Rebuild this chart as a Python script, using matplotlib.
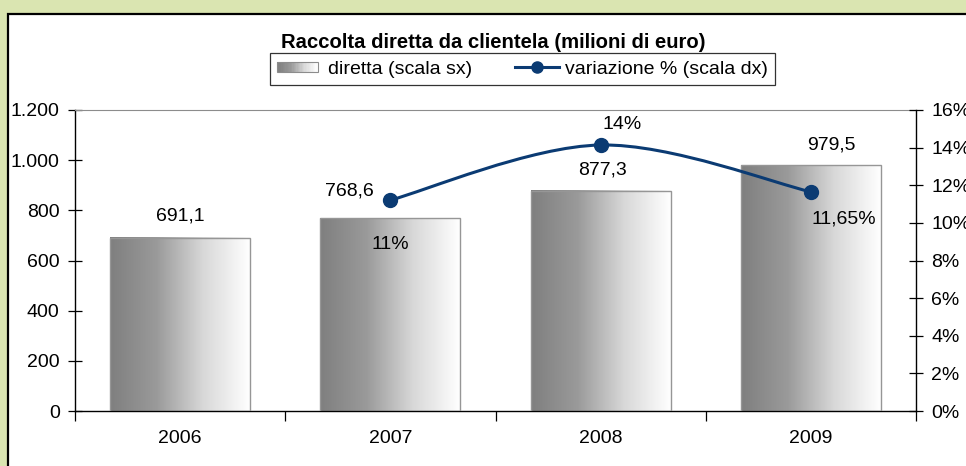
import numpy as np
import matplotlib
matplotlib.use('Agg')
import matplotlib.pyplot as plt
from matplotlib.path import Path
from matplotlib.patches import PathPatch, Rectangle
from matplotlib.lines import Line2D
from matplotlib.legend_handler import HandlerBase
from matplotlib.colors import LinearSegmentedColormap
from matplotlib.ticker import FuncFormatter, FixedLocator

### data

years = ['2006', '2007', '2008', '2009']
diretta = [691.1, 768.6, 877.3, 979.5]
diretta_labels = ['691,1', '768,6', '877,3', '979,5']
var_years = [1, 2, 3]  # index into years
variazione = [11.21, 14.14, 11.65]
var_labels = ['11%', '14%', '11,65%']

### style

plt.rcParams['font.family'] = ['Liberation Sans', 'DejaVu Sans']
FS = 14
NAVY = '#0b3b73'
GREEN_BG = '#dae5b1'
grad_cmap = LinearSegmentedColormap.from_list('grad', ['#7f7f7f', '#9a9a9a', '#d8d8d8', '#ffffff'])

# label offsets in pixels (dx, dy)
bar_off = [(0, 22), (-41, 27), (2, 21), (21, 20)]
var_off = [(0, -44), (21, 20), (33, -27)]


class GradientHandler(HandlerBase):
	def create_artists(self, legend, orig_handle, xdescent, ydescent, width, height, fontsize, trans):
		n = 30
		arts = []
		w = width * 0.92
		h = height * 0.8
		y0 = -ydescent + (height - h) / 2
		for i in range(n):
			r = Rectangle((-xdescent + w * i / n, y0), w / n, h,
				facecolor=grad_cmap(i / (n - 1)), edgecolor='none', transform=trans)
			arts.append(r)
		arts.append(Rectangle((-xdescent, y0), w, h, facecolor='none',
			edgecolor='#8c8c8c', lw=0.8, transform=trans))
		return arts


### figure

fig = plt.figure(figsize=(9.66, 4.66), dpi=100)
fig.patch.set_facecolor(GREEN_BG)
panel = Rectangle((7.5 / 966, -0.1), 1.2, 1 - 13.5 / 466 + 0.1, transform=fig.transFigure,
	facecolor='white', edgecolor='black', lw=1.6, zorder=-10)
fig.patches.append(panel)

ax = fig.add_axes([75 / 966, 1 - 411 / 466, 841 / 966, 301 / 466])
ax.set_facecolor('none')
x = np.arange(len(years))
bars = ax.bar(x, diretta, width=0.665, facecolor='none', edgecolor='#969696', lw=1.0, zorder=3)
for b in bars:
	x0, w, h = b.get_x(), b.get_width(), b.get_height()
	ax.imshow(np.linspace(0, 1, 256).reshape(1, -1), cmap=grad_cmap, aspect='auto',
		extent=(x0, x0 + w, 0, h), zorder=2, interpolation='bilinear')
for b, lab, off in zip(bars, diretta_labels, bar_off):
	ax.annotate(lab, (b.get_x() + b.get_width() / 2, b.get_height()), xytext=off,
		textcoords='offset pixels', ha='center', va='center', fontsize=FS, zorder=6)

ax.set_xlim(-0.5, len(years) - 0.5)
ax.set_ylim(0, 1200)
ax.yaxis.set_major_locator(FixedLocator(np.arange(0, 1201, 200)))
ax.yaxis.set_major_formatter(FuncFormatter(lambda v, p: f"{int(v):,}".replace(',', '.')))
ax.xaxis.set_major_locator(FixedLocator(np.arange(-0.5, len(years), 1.0)))
ax.xaxis.set_major_formatter(FuncFormatter(lambda v, p: ''))
ax.xaxis.set_minor_locator(FixedLocator(x))
ax.set_xticklabels(years, minor=True)
ax.tick_params(axis='x', which='major', direction='out', length=7, width=0.9)
ax.tick_params(axis='x', which='minor', length=0, pad=14, labelsize=FS)
ax.tick_params(axis='y', direction='inout', length=10, width=0.9, labelsize=FS, pad=6)
for s in ['left', 'bottom']:
	ax.spines[s].set_linewidth(1.0)
ax.spines['top'].set_color('#8c8c8c')
ax.spines['right'].set_visible(False)

ax2 = ax.twinx()
ax2.set_ylim(0, 16)
ax2.yaxis.set_major_locator(FixedLocator(np.arange(0, 17, 2)))
ax2.yaxis.set_major_formatter(FuncFormatter(lambda v, p: f"{int(v)}%"))
ax2.tick_params(axis='y', direction='inout', length=10, width=0.9, labelsize=FS, pad=6)
ax2.spines['right'].set_linewidth(1.0)
for s in ['left', 'top', 'bottom']:
	ax2.spines[s].set_visible(False)

# smooth line (Catmull-Rom as Bezier)
pts = np.column_stack([var_years, variazione]).astype(float)
ext = np.vstack([pts[0], pts, pts[-1]])
verts = [tuple(pts[0])]
codes = [Path.MOVETO]
for i in range(len(pts) - 1):
	p0, p1, p2, p3 = ext[i], ext[i + 1], ext[i + 2], ext[i + 3]
	verts += [tuple(p1 + (p2 - p0) / 6), tuple(p2 - (p3 - p1) / 6), tuple(p2)]
	codes += [Path.CURVE4] * 3
ax2.add_patch(PathPatch(Path(verts, codes), facecolor='none', edgecolor=NAVY, lw=2.2, zorder=4))
ax2.plot(var_years, variazione, ls='none', marker='o', ms=10, color=NAVY, zorder=5)
for xi, yi, lab, off in zip(var_years, variazione, var_labels, var_off):
	ax2.annotate(lab, (xi, yi), xytext=off, textcoords='offset pixels',
		ha='center', va='center', fontsize=FS, zorder=6)

# title and legend
fig.text(493 / 966, 1 - 42 / 466, 'Raccolta diretta da clientela (milioni di euro)',
	ha='center', va='center', fontsize=14.6, fontweight='bold')
h_bar = Rectangle((0, 0), 1, 1)
h_line = Line2D([], [], color=NAVY, lw=2.2, marker='o', ms=8)
leg = fig.legend([h_bar, h_line], ['diretta (scala sx)', 'variazione % (scala dx)'],
	handler_map={Rectangle: GradientHandler()}, loc='center',
	bbox_to_anchor=(522.5 / 966, 1 - 69 / 466), ncol=2, fontsize=FS, frameon=True,
	fancybox=False, edgecolor='black', borderpad=0.35, handlelength=2.3, handletextpad=0.3,
	columnspacing=2.2, borderaxespad=0)
leg.get_frame().set_linewidth(0.9)

fig.savefig('out.png', dpi=100, facecolor=fig.get_facecolor())
